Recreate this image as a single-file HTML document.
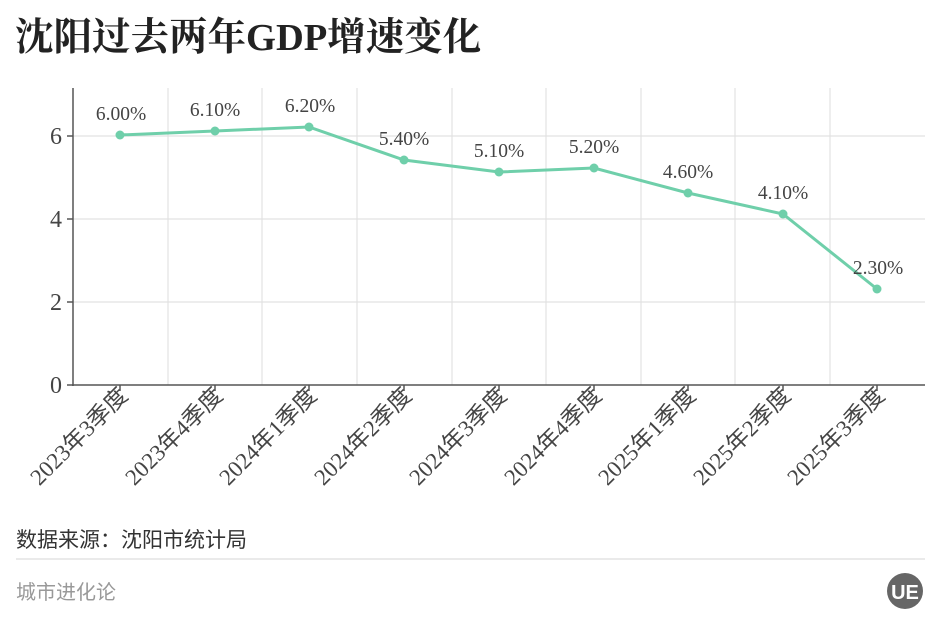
<!DOCTYPE html>
<html><head><meta charset="utf-8"><style>
body{margin:0;background:#fff;width:940px;height:620px;overflow:hidden}
</style></head><body>
<svg width="940" height="620" xmlns="http://www.w3.org/2000/svg" font-family="'Liberation Serif','Noto Serif CJK SC',serif">
<text x="15" y="50" font-size="38.5" font-weight="bold" fill="#222">沈阳过去两年GDP增速变化</text>
<g stroke="#e2e2e2" stroke-width="1.2">
<line x1="73" y1="136" x2="925" y2="136"/><line x1="73" y1="219" x2="925" y2="219"/><line x1="73" y1="302" x2="925" y2="302"/>
<line x1="168" y1="88" x2="168" y2="385"/><line x1="262" y1="88" x2="262" y2="385"/><line x1="357" y1="88" x2="357" y2="385"/><line x1="452" y1="88" x2="452" y2="385"/><line x1="546" y1="88" x2="546" y2="385"/><line x1="641" y1="88" x2="641" y2="385"/><line x1="735" y1="88" x2="735" y2="385"/><line x1="830" y1="88" x2="830" y2="385"/>
</g>
<g stroke="#555" stroke-width="1.5">
<line x1="73" y1="88" x2="73" y2="386"/><line x1="72" y1="385" x2="925" y2="385"/>
<line x1="67" y1="136" x2="73" y2="136"/><line x1="67" y1="219" x2="73" y2="219"/><line x1="67" y1="302" x2="73" y2="302"/><line x1="67" y1="385" x2="73" y2="385"/>
<line x1="120" y1="385" x2="120" y2="391"/><line x1="215" y1="385" x2="215" y2="391"/><line x1="309" y1="385" x2="309" y2="391"/><line x1="404" y1="385" x2="404" y2="391"/><line x1="499" y1="385" x2="499" y2="391"/><line x1="594" y1="385" x2="594" y2="391"/><line x1="688" y1="385" x2="688" y2="391"/><line x1="783" y1="385" x2="783" y2="391"/><line x1="877" y1="385" x2="877" y2="391"/>
</g>
<g font-size="24" fill="#444" text-anchor="end"><text x="62" y="144">6</text><text x="62" y="227">4</text><text x="62" y="310">2</text><text x="62" y="393">0</text></g>
<polyline fill="none" stroke="#6fcfaa" stroke-width="3" points="120,135 215,131 309,127 404,160 499,172 594,168 688,193 783,214 877,289"/>
<g fill="#6fcfaa"><circle cx="120" cy="135" r="4.5"/><circle cx="215" cy="131" r="4.5"/><circle cx="309" cy="127" r="4.5"/><circle cx="404" cy="160" r="4.5"/><circle cx="499" cy="172" r="4.5"/><circle cx="594" cy="168" r="4.5"/><circle cx="688" cy="193" r="4.5"/><circle cx="783" cy="214" r="4.5"/><circle cx="877" cy="289" r="4.5"/></g>
<g font-size="19.5" fill="#444" text-anchor="middle">
<text x="121" y="120">6.00%</text><text x="215" y="116">6.10%</text><text x="310" y="112">6.20%</text><text x="404" y="145">5.40%</text><text x="499" y="157">5.10%</text><text x="594" y="153">5.20%</text><text x="688" y="178">4.60%</text><text x="783" y="199">4.10%</text><text x="878" y="274">2.30%</text>
</g>
<g font-size="23" fill="#444" text-anchor="end" font-family="'Liberation Serif','Noto Sans CJK SC',serif">
<text transform="translate(129,397) rotate(-45)">2023年3季度</text>
<text transform="translate(224,397) rotate(-45)">2023年4季度</text>
<text transform="translate(318,397) rotate(-45)">2024年1季度</text>
<text transform="translate(413,397) rotate(-45)">2024年2季度</text>
<text transform="translate(508,397) rotate(-45)">2024年3季度</text>
<text transform="translate(603,397) rotate(-45)">2024年4季度</text>
<text transform="translate(697,397) rotate(-45)">2025年1季度</text>
<text transform="translate(792,397) rotate(-45)">2025年2季度</text>
<text transform="translate(886,397) rotate(-45)">2025年3季度</text>
</g>
<text x="16" y="547" font-size="21" fill="#333" font-family="'Liberation Sans','Noto Sans CJK SC',sans-serif">数据来源：沈阳市统计局</text>
<line x1="16" y1="559" x2="925" y2="559" stroke="#ddd" stroke-width="1.2"/>
<text x="16" y="599" font-size="20" fill="#999" font-family="'Liberation Sans','Noto Sans CJK SC',sans-serif">城市进化论</text>
<circle cx="905" cy="591" r="18" fill="#666"/>
<text x="905" y="599" font-size="20" font-weight="bold" fill="#fff" text-anchor="middle" font-family="'Liberation Sans',sans-serif">UE</text>
</svg>
</body></html>
